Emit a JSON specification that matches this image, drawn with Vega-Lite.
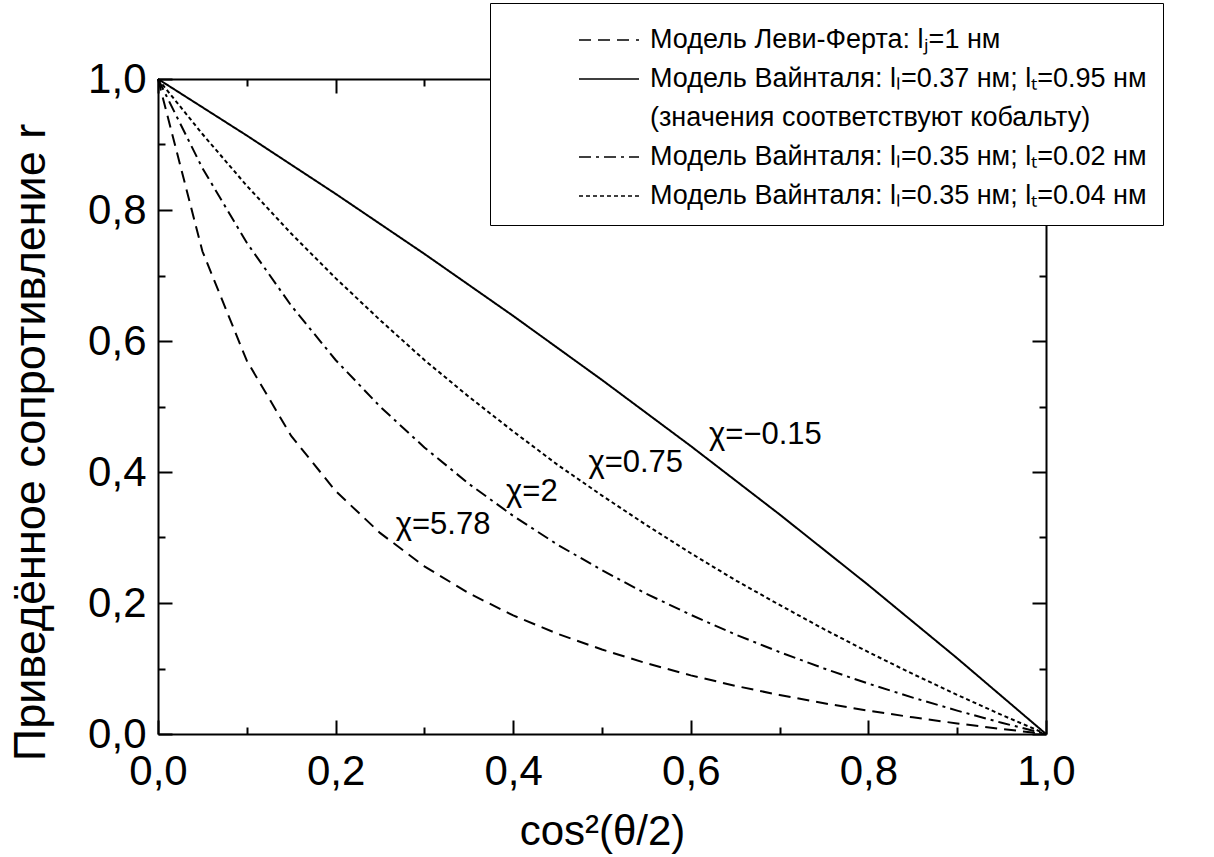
{
  "$schema": "https://vega.github.io/schema/vega-lite/v6.json",
  "width": 888,
  "height": 655,
  "autosize": {"type": "none"},
  "padding": {"left": 158, "top": 79, "right": 168, "bottom": 123},
  "background": "white",
  "config": {
    "view": {"stroke": null},
    "font": "Liberation Sans",
    "axis": {
      "domainColor": "black",
      "domainWidth": 2,
      "tickColor": "black",
      "tickWidth": 2,
      "grid": false,
      "labelColor": "black",
      "titleColor": "black",
      "labelFont": "Liberation Sans",
      "titleFont": "Liberation Sans",
      "titleFontWeight": "normal",
      "labelFontSize": 42,
      "labelFlush": false,
      "labelOverlap": false
    }
  },
  "datasets": {
    "curves": [
      {"c": 0, "r": 1, "s": "A"},
      {"c": 0.05, "r": 0.737, "s": "A"},
      {"c": 0.1, "r": 0.57, "s": "A"},
      {"c": 0.15, "r": 0.455, "s": "A"},
      {"c": 0.2, "r": 0.371, "s": "A"},
      {"c": 0.25, "r": 0.307, "s": "A"},
      {"c": 0.3, "r": 0.256, "s": "A"},
      {"c": 0.35, "r": 0.215, "s": "A"},
      {"c": 0.4, "r": 0.181, "s": "A"},
      {"c": 0.45, "r": 0.153, "s": "A"},
      {"c": 0.5, "r": 0.129, "s": "A"},
      {"c": 0.55, "r": 0.108, "s": "A"},
      {"c": 0.6, "r": 0.0895, "s": "A"},
      {"c": 0.65, "r": 0.0736, "s": "A"},
      {"c": 0.7, "r": 0.0595, "s": "A"},
      {"c": 0.75, "r": 0.0469, "s": "A"},
      {"c": 0.8, "r": 0.0356, "s": "A"},
      {"c": 0.85, "r": 0.0254, "s": "A"},
      {"c": 0.9, "r": 0.0161, "s": "A"},
      {"c": 0.95, "r": 0.0077, "s": "A"},
      {"c": 1, "r": 0, "s": "A"},
      {"c": 0, "r": 1, "s": "B"},
      {"c": 0.1, "r": 0.9137, "s": "B"},
      {"c": 0.2, "r": 0.8247, "s": "B"},
      {"c": 0.3, "r": 0.733, "s": "B"},
      {"c": 0.4, "r": 0.6383, "s": "B"},
      {"c": 0.5, "r": 0.5405, "s": "B"},
      {"c": 0.6, "r": 0.4396, "s": "B"},
      {"c": 0.7, "r": 0.3352, "s": "B"},
      {"c": 0.8, "r": 0.2273, "s": "B"},
      {"c": 0.9, "r": 0.1156, "s": "B"},
      {"c": 1, "r": 0, "s": "B"},
      {"c": 0, "r": 1, "s": "D"},
      {"c": 0.05, "r": 0.864, "s": "D"},
      {"c": 0.1, "r": 0.75, "s": "D"},
      {"c": 0.15, "r": 0.654, "s": "D"},
      {"c": 0.2, "r": 0.571, "s": "D"},
      {"c": 0.25, "r": 0.5, "s": "D"},
      {"c": 0.3, "r": 0.4375, "s": "D"},
      {"c": 0.35, "r": 0.382, "s": "D"},
      {"c": 0.4, "r": 0.333, "s": "D"},
      {"c": 0.45, "r": 0.289, "s": "D"},
      {"c": 0.5, "r": 0.25, "s": "D"},
      {"c": 0.55, "r": 0.214, "s": "D"},
      {"c": 0.6, "r": 0.182, "s": "D"},
      {"c": 0.65, "r": 0.152, "s": "D"},
      {"c": 0.7, "r": 0.125, "s": "D"},
      {"c": 0.75, "r": 0.1, "s": "D"},
      {"c": 0.8, "r": 0.0769, "s": "D"},
      {"c": 0.85, "r": 0.0556, "s": "D"},
      {"c": 0.9, "r": 0.0357, "s": "D"},
      {"c": 0.95, "r": 0.0172, "s": "D"},
      {"c": 1, "r": 0, "s": "D"},
      {"c": 0, "r": 1, "s": "E"},
      {"c": 0.05, "r": 0.916, "s": "E"},
      {"c": 0.1, "r": 0.837, "s": "E"},
      {"c": 0.15, "r": 0.764, "s": "E"},
      {"c": 0.2, "r": 0.696, "s": "E"},
      {"c": 0.25, "r": 0.632, "s": "E"},
      {"c": 0.3, "r": 0.571, "s": "E"},
      {"c": 0.35, "r": 0.515, "s": "E"},
      {"c": 0.4, "r": 0.462, "s": "E"},
      {"c": 0.45, "r": 0.411, "s": "E"},
      {"c": 0.5, "r": 0.364, "s": "E"},
      {"c": 0.55, "r": 0.319, "s": "E"},
      {"c": 0.6, "r": 0.276, "s": "E"},
      {"c": 0.65, "r": 0.235, "s": "E"},
      {"c": 0.7, "r": 0.197, "s": "E"},
      {"c": 0.75, "r": 0.16, "s": "E"},
      {"c": 0.8, "r": 0.125, "s": "E"},
      {"c": 0.85, "r": 0.0916, "s": "E"},
      {"c": 0.9, "r": 0.0597, "s": "E"},
      {"c": 0.95, "r": 0.0292, "s": "E"},
      {"c": 1, "r": 0, "s": "E"}
    ],
    "labels": [
      {"c": 0.321, "r": 0.319, "t": "χ=5.78"},
      {"c": 0.421, "r": 0.369, "t": "χ=2"},
      {"c": 0.538, "r": 0.413, "t": "χ=0.75"},
      {"c": 0.684, "r": 0.456, "t": "χ=−0.15"}
    ]
  },
  "layer": [
    {
      "data": {"name": "curves"},
      "mark": {"type": "line", "color": "black", "strokeWidth": 2},
      "encoding": {
        "x": {
          "field": "c", "type": "quantitative",
          "scale": {"domain": [0, 1], "nice": false},
          "axis": {
            "orient": "bottom",
            "values": [0, 0.1, 0.2, 0.3, 0.4, 0.5, 0.6, 0.7, 0.8, 0.9, 1],
            "labelExpr": "round(datum.value*10)%2==0 ? replace(format(datum.value,'.1f'),'.',',') : ''",
            "tickSize": {"condition": {"test": "round(datum.value*10)%2==1", "value": -7}, "value": -14},
            "labelPadding": 31,
            "title": "cos²(θ/2)",
            "titleFontSize": 42,
            "titleX": 444,
            "titleY": 110,
            "titleAlign": "center",
            "titleBaseline": "alphabetic"
          }
        },
        "y": {
          "field": "r", "type": "quantitative",
          "scale": {"domain": [0, 1], "nice": false},
          "axis": {
            "orient": "left",
            "values": [0, 0.1, 0.2, 0.3, 0.4, 0.5, 0.6, 0.7, 0.8, 0.9, 1],
            "labelExpr": "round(datum.value*10)%2==0 ? replace(format(datum.value,'.1f'),'.',',') : ''",
            "tickSize": {"condition": {"test": "round(datum.value*10)%2==1", "value": -7}, "value": -14},
            "labelPadding": 26,
            "title": "Приведённое сопротивление r",
            "titleFontSize": 45,
            "titleAngle": -90,
            "titleX": -114,
            "titleY": 363,
            "titleAlign": "center",
            "titleBaseline": "alphabetic"
          }
        },
        "strokeDash": {
          "field": "s", "type": "nominal",
          "scale": {
            "domain": ["A", "B", "C", "D", "E"],
            "range": [[12, 7], [1, 0], [0, 1000], [12, 5, 3, 5], [4, 3]]
          },
          "legend": {
            "orient": "none",
            "legendX": 332,
            "legendY": -76,
            "title": null,
            "strokeColor": "black",
            "fillColor": "white",
            "padding": 16,
            "symbolType": "M-1.5,0H1.5",
            "symbolSize": 1600,
            "symbolStrokeWidth": 1.5,
            "symbolStrokeColor": "black",
            "symbolFillColor": "transparent",
            "symbolOffset": 82,
            "labelFontSize": 27,
            "labelFont": "Liberation Sans",
            "labelColor": "black",
            "labelLimit": 0,
            "labelOffset": 20,
            "rowPadding": 5,
            "labelExpr": "datum.label=='A' ? 'Модель Леви-Ферта: lⱼ=1 нм' : datum.label=='B' ? 'Модель Вайнталя: lₗ=0.37 нм; lₜ=0.95 нм' : datum.label=='C' ? '(значения соответствуют кобальту)' : datum.label=='D' ? 'Модель Вайнталя: lₗ=0.35 нм; lₜ=0.02 нм' : 'Модель Вайнталя: lₗ=0.35 нм; lₜ=0.04 нм'"
          }
        }
      }
    },
    {
      "data": {"name": "labels"},
      "mark": {"type": "text", "fontSize": 31, "color": "black", "align": "center", "baseline": "middle", "font": "Liberation Sans"},
      "encoding": {
        "x": {
          "field": "c", "type": "quantitative",
          "scale": {"domain": [0, 1], "nice": false},
          "axis": {
            "orient": "top",
            "values": [0, 0.1, 0.2, 0.3, 0.4, 0.5, 0.6, 0.7, 0.8, 0.9, 1],
            "labels": false,
            "title": null,
            "tickSize": {"condition": {"test": "round(datum.value*10)%2==1", "value": -7}, "value": -14}
          }
        },
        "y": {
          "field": "r", "type": "quantitative",
          "scale": {"domain": [0, 1], "nice": false},
          "axis": {
            "orient": "right",
            "values": [0, 0.1, 0.2, 0.3, 0.4, 0.5, 0.6, 0.7, 0.8, 0.9, 1],
            "labels": false,
            "title": null,
            "tickSize": {"condition": {"test": "round(datum.value*10)%2==1", "value": -7}, "value": -14}
          }
        },
        "text": {"field": "t", "type": "nominal"}
      }
    }
  ],
  "resolve": {"axis": {"x": "independent", "y": "independent"}}
}
